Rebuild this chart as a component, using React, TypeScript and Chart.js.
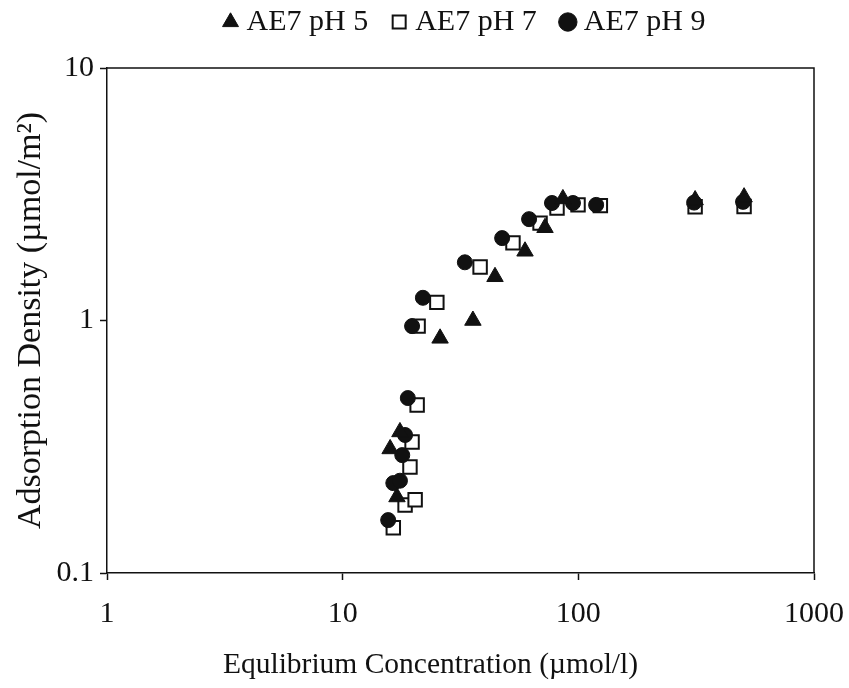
import React, { useEffect, useRef } from 'react';
import { Chart, registerables } from 'chart.js';

Chart.register(...registerables);

const seriesLabels = ['AE7 pH 5', 'AE7 pH 7', 'AE7 pH 9'];

const ph5X = [15.9, 17.5, 17.0, 25.9, 35.7, 44.3, 59.4, 72.2, 86, 313, 505];
const ph5Y = [0.31, 0.362, 0.2, 0.85, 1.0, 1.49, 1.88, 2.33, 3.03, 3.0, 3.08];

const ph7X = [16.4, 18.4, 20.3, 19.3, 19.7, 20.7, 20.9, 25.1, 38.3, 52.8, 68.8, 81.2, 99.7, 124, 313, 505];
const ph7Y = [0.151, 0.186, 0.195, 0.263, 0.33, 0.463, 0.95, 1.18, 1.63, 2.03, 2.43, 2.79, 2.87, 2.85, 2.82, 2.83];

const ph9X = [15.6, 16.4, 17.5, 17.9, 18.4, 18.9, 19.7, 21.9, 33.0, 47.5, 61.8, 77.3, 94.9, 119, 310, 500];
const ph9Y = [0.162, 0.227, 0.232, 0.293, 0.352, 0.493, 0.95, 1.23, 1.7, 2.12, 2.52, 2.92, 2.92, 2.87, 2.93, 2.95];

const xTickValues = [1, 10, 100, 1000];
const yTickValues = [0.1, 1, 10];

const xTitle = 'Equlibrium Concentration (µmol/l)';
const yTitle = 'Adsorption Density (µmol/m²)';

const FONT = '"Liberation Serif", "Times New Roman", serif';
const INK = '#111';
const LEGEND_EXTRA = 21;
const LEGEND_SHIFT_X = 7;
const X_TITLE_SHIFT = -30;

export default function App() {
  const ref = useRef<HTMLCanvasElement>(null);

  useEffect(() => {
    if (!ref.current) return;
    const pts = (xs: number[], ys: number[]) => xs.map((x, i) => ({ x, y: ys[i] }));

    const framePlugin = {
      id: 'frame',
      beforeDatasetsDraw(chart: any) {
        const { ctx, chartArea: a } = chart;
        ctx.save();
        ctx.strokeStyle = INK;
        ctx.lineWidth = 1.5;
        ctx.beginPath();
        ctx.moveTo(a.left, a.top);
        ctx.lineTo(a.right, a.top);
        ctx.lineTo(a.right, a.bottom);
        ctx.stroke();
        ctx.restore();
      },
    };

    const layoutTweaks = {
      id: 'layoutTweaks',
      afterInit(chart: any) {
        const lg = chart.legend;
        if (!lg) return;
        const orig = lg.fit.bind(lg);
        lg.fit = function () {
          orig();
          if (this.height) this.height += LEGEND_EXTRA;
        };
      },
      afterLayout(chart: any) {
        const lg = chart.legend;
        if (lg) {
          lg.left += LEGEND_SHIFT_X;
          lg.right += LEGEND_SHIFT_X;
        }
        const sx = chart.scales.x;
        if (sx && !sx.__titleShifted) {
          const origTitle = sx.drawTitle.bind(sx);
          sx.drawTitle = function () {
            const c = this.ctx;
            c.save();
            c.translate(X_TITLE_SHIFT, 0);
            origTitle();
            c.restore();
          };
          sx.__titleShifted = true;
        }
      },
    };

    const chart = new Chart(ref.current, {
      type: 'scatter',
      data: {
        datasets: [
          {
            label: seriesLabels[0],
            data: pts(ph5X, ph5Y),
            pointStyle: 'triangle',
            pointRadius: 9.5,
            backgroundColor: INK,
            borderColor: INK,
            borderWidth: 1,
            order: 1,
          },
          {
            label: seriesLabels[1],
            data: pts(ph7X, ph7Y),
            pointStyle: 'rect',
            pointRadius: 9.5,
            backgroundColor: '#ffffff',
            borderColor: INK,
            borderWidth: 2,
            order: 3,
          },
          {
            label: seriesLabels[2],
            data: pts(ph9X, ph9Y),
            pointStyle: 'circle',
            pointRadius: 7.5,
            backgroundColor: INK,
            borderColor: INK,
            borderWidth: 1,
            order: 2,
          },
        ],
      },
      options: {
        animation: false,
        responsive: true,
        maintainAspectRatio: false,
        layout: { padding: { top: -23, right: 35, bottom: 0, left: 0 } },
        plugins: {
          tooltip: { enabled: false },
          legend: {
            display: true,
            position: 'top',
            fullSize: false,
            labels: {
              usePointStyle: true,
              boxWidth: 2,
              boxHeight: 13,
              padding: 30,
              color: INK,
              font: { family: FONT, size: 30 },
              sort: (a: any, b: any) => a.datasetIndex - b.datasetIndex,
            },
          },
        },
        scales: {
          x: {
            type: 'logarithmic',
            min: 1,
            max: 1000,
            afterBuildTicks: (s: any) => {
              s.ticks = xTickValues.map((v) => ({ value: v }));
            },
            afterFit: (s: any) => {
              s.height = 115;
              s.paddingLeft = 0;
              s.paddingRight = 0;
            },
            ticks: {
              color: INK,
              font: { family: FONT, size: 30 },
              padding: 16,
              maxRotation: 0,
              autoSkip: false,
              callback: (v: any) => String(v),
            },
            grid: {
              drawOnChartArea: false,
              drawTicks: true,
              tickLength: 7,
              tickColor: INK,
              tickWidth: 1.5,
            },
            border: { display: true, color: INK, width: 1.5 },
            title: {
              display: true,
              text: xTitle,
              color: INK,
              font: { family: FONT, size: 29.5 },
              padding: { top: 0, bottom: 5 },
            },
          },
          y: {
            type: 'logarithmic',
            min: 0.1,
            max: 10,
            afterBuildTicks: (s: any) => {
              s.ticks = yTickValues.map((v) => ({ value: v }));
            },
            afterFit: (s: any) => {
              s.width = 107;
            },
            ticks: {
              color: INK,
              font: { family: FONT, size: 30 },
              padding: 6,
              autoSkip: false,
              callback: (v: any) => String(v),
            },
            grid: {
              drawOnChartArea: false,
              drawTicks: true,
              tickLength: 7,
              tickColor: INK,
              tickWidth: 1.5,
            },
            border: { display: true, color: INK, width: 1.5 },
            title: {
              display: true,
              text: yTitle,
              color: INK,
              font: { family: FONT, size: 34 },
              padding: { top: 11, bottom: 0 },
            },
          },
        },
      },
      plugins: [framePlugin, layoutTweaks],
    } as any);

    return () => chart.destroy();
  }, []);

  return (
    <div style={{ position: 'fixed', left: 0, top: 0, width: 849, height: 688, background: '#fff' }}>
      <canvas ref={ref} />
    </div>
  );
}
